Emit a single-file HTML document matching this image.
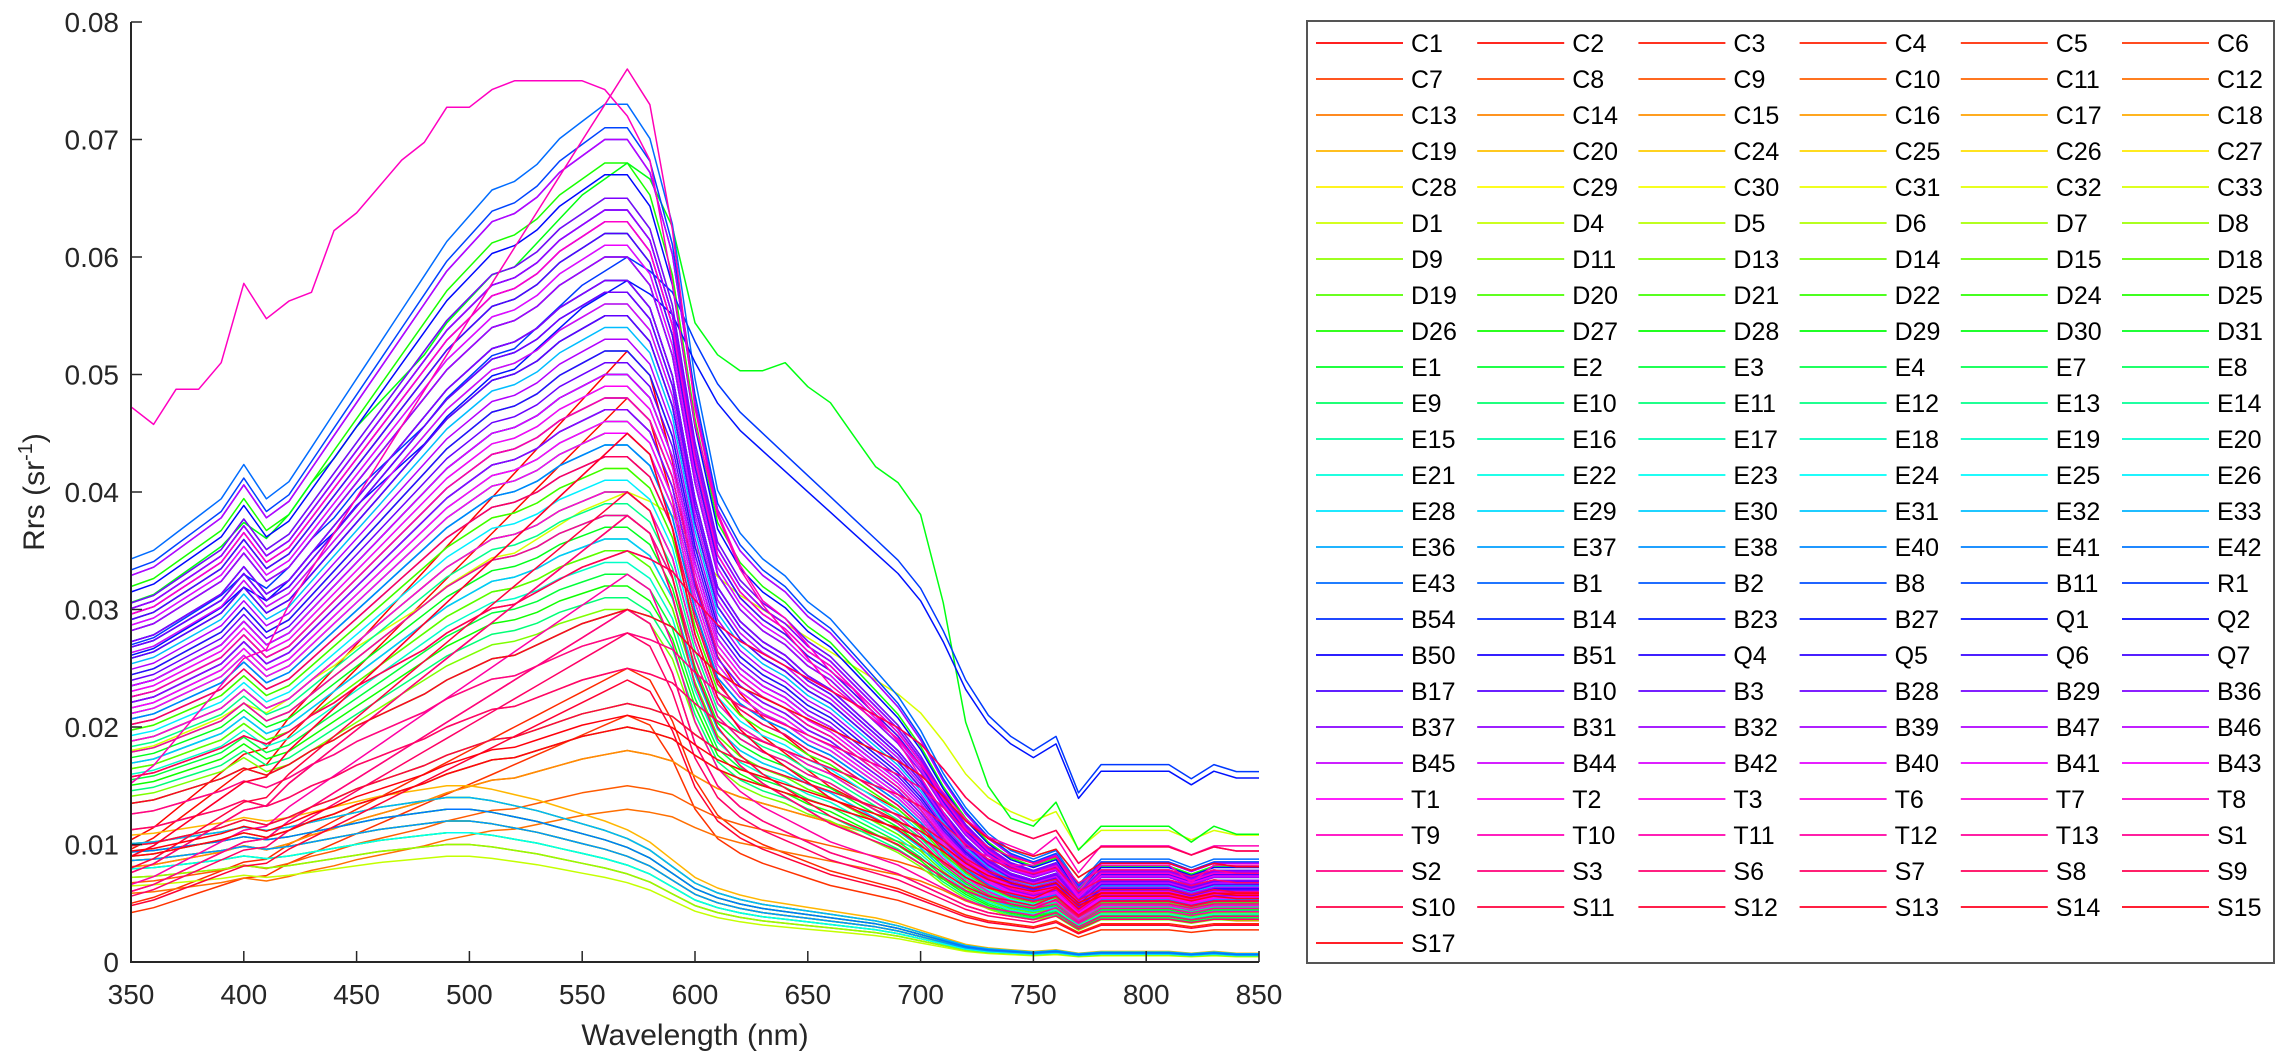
<!DOCTYPE html>
<html><head><meta charset="utf-8"><style>
html,body{margin:0;padding:0;background:#fff;}
svg{display:block;font-family:"Liberation Sans",Arial,sans-serif;}
</style></head><body>
<svg id="chart" width="2284" height="1060" viewBox="0 0 2284 1060" xmlns="http://www.w3.org/2000/svg"></svg>
<script>
const wavelengths=[350,360,370,380,390,400,410,420,430,440,450,460,470,480,490,500,510,520,530,540,550,560,570,580,590,600,610,620,630,640,650,660,670,680,690,700,710,720,730,740,750,760,770,780,790,800,810,820,830,840,850];
const shapeA=[0.47,0.48,0.50,0.52,0.54,0.58,0.54,0.56,0.60,0.64,0.68,0.72,0.76,0.80,0.84,0.87,0.90,0.91,0.93,0.96,0.98,1.00,1.00,0.96,0.86,0.68,0.55,0.50,0.47,0.45,0.42,0.40,0.37,0.34,0.31,0.27,0.22,0.18,0.15,0.13,0.12,0.13,0.09,0.12,0.12,0.12,0.12,0.11,0.12,0.12,0.12];
const shapeB=[0.45,0.46,0.48,0.50,0.52,0.55,0.53,0.56,0.60,0.63,0.67,0.70,0.73,0.76,0.80,0.83,0.86,0.87,0.90,0.93,0.96,0.98,1.00,0.98,0.95,0.88,0.82,0.78,0.75,0.72,0.69,0.66,0.63,0.60,0.57,0.53,0.47,0.40,0.35,0.32,0.30,0.32,0.24,0.28,0.28,0.28,0.28,0.26,0.28,0.27,0.27];
const shapeC=[0.72,0.73,0.75,0.77,0.79,0.82,0.80,0.82,0.85,0.88,0.91,0.94,0.96,0.98,1.00,1.00,0.98,0.95,0.92,0.88,0.84,0.80,0.75,0.68,0.58,0.48,0.42,0.38,0.35,0.33,0.31,0.29,0.27,0.25,0.22,0.18,0.14,0.10,0.08,0.07,0.06,0.07,0.05,0.06,0.06,0.06,0.06,0.05,0.06,0.05,0.05];
const shapeD=[0.20,0.22,0.25,0.28,0.31,0.34,0.35,0.40,0.44,0.48,0.52,0.56,0.60,0.64,0.68,0.72,0.76,0.80,0.84,0.88,0.92,0.96,1.00,0.96,0.82,0.62,0.50,0.44,0.40,0.37,0.34,0.31,0.29,0.27,0.25,0.22,0.19,0.16,0.14,0.13,0.12,0.14,0.10,0.13,0.13,0.13,0.13,0.12,0.13,0.13,0.13];
const shapeE=[0.63,0.61,0.65,0.65,0.68,0.77,0.73,0.75,0.76,0.83,0.85,0.88,0.91,0.93,0.97,0.97,0.99,1,1,1,1,0.99,0.96,0.91,0.77,0.61,0.51,0.45,0.41,0.39,0.36,0.33,0.31,0.28,0.25,0.21,0.17,0.13,0.12,0.11,0.11,0.12,0.08,0.11,0.11,0.11,0.11,0.09,0.11,0.11,0.11];
const shapeF=[0.45,0.46,0.48,0.50,0.52,0.55,0.53,0.56,0.60,0.63,0.67,0.70,0.73,0.76,0.80,0.83,0.86,0.87,0.90,0.93,0.96,0.98,1.00,0.98,0.92,0.80,0.76,0.74,0.74,0.75,0.72,0.70,0.66,0.62,0.60,0.56,0.45,0.30,0.22,0.18,0.17,0.20,0.14,0.17,0.17,0.17,0.17,0.15,0.17,0.16,0.16];
const labels=["C1","C2","C3","C4","C5","C6","C7","C8","C9","C10","C11","C12","C13","C14","C15","C16","C17","C18","C19","C20","C24","C25","C26","C27","C28","C29","C30","C31","C32","C33","D1","D4","D5","D6","D7","D8","D9","D11","D13","D14","D15","D18","D19","D20","D21","D22","D24","D25","D26","D27","D28","D29","D30","D31","E1","E2","E3","E4","E7","E8","E9","E10","E11","E12","E13","E14","E15","E16","E17","E18","E19","E20","E21","E22","E23","E24","E25","E26","E28","E29","E30","E31","E32","E33","E36","E37","E38","E40","E41","E42","E43","B1","B2","B8","B11","R1","B54","B14","B23","B27","Q1","Q2","B50","B51","Q4","Q5","Q6","Q7","B17","B10","B3","B28","B29","B36","B37","B31","B32","B39","B47","B46","B45","B44","B42","B40","B41","B43","T1","T2","T3","T6","T7","T8","T9","T10","T11","T12","T13","S1","S2","S3","S6","S7","S8","S9","S10","S11","S12","S13","S14","S15","S17"];
const seriesShape=["D","D","D","D","D","D","B","B","C","B","C","B","B","C","B","C","B","A","C","B","A","B","C","A","A","A","B","C","A","B","C","C","A","C","B","A","C","A","A","C","B","A","A","C","A","A","B","A","A","A","C","A","F","A","A","A","A","C","A","A","A","A","A","A","A","A","A","A","A","A","A","A","A","A","C","A","A","A","A","A","A","A","A","C","A","A","C","A","A","C","A","A","A","A","A","B","A","A","A","B","A","A","A","A","A","A","A","A","A","A","A","A","A","A","A","A","A","A","A","A","A","A","A","A","A","A","A","A","D","A","B","A","E","D","A","D","A","B","D","D","B","D","A","B","B","D","D","B","D","B","B"];
const seriesPeak=[0.052,0.048,0.038,0.030,0.025,0.021,0.020,0.018,0.012,0.015,0.010,0.013,0.025,0.012,0.018,0.014,0.028,0.048,0.015,0.022,0.045,0.030,0.013,0.040,0.060,0.055,0.035,0.012,0.042,0.040,0.011,0.009,0.035,0.013,0.020,0.038,0.010,0.040,0.030,0.012,0.022,0.046,0.035,0.014,0.050,0.042,0.030,0.062,0.068,0.032,0.011,0.045,0.068,0.037,0.040,0.058,0.033,0.013,0.047,0.052,0.036,0.044,0.031,0.065,0.039,0.056,0.045,0.038,0.060,0.050,0.034,0.058,0.043,0.052,0.011,0.047,0.055,0.041,0.061,0.049,0.044,0.036,0.054,0.014,0.057,0.046,0.012,0.050,0.044,0.013,0.073,0.062,0.058,0.064,0.071,0.060,0.070,0.063,0.050,0.058,0.067,0.055,0.057,0.048,0.060,0.047,0.052,0.064,0.058,0.062,0.055,0.051,0.057,0.065,0.058,0.047,0.064,0.060,0.053,0.070,0.063,0.043,0.056,0.050,0.061,0.045,0.046,0.049,0.045,0.040,0.035,0.063,0.075,0.076,0.048,0.033,0.038,0.028,0.030,0.038,0.025,0.028,0.043,0.035,0.022,0.040,0.024,0.030,0.045,0.020,0.021];
const xTicks=[350,400,450,500,550,600,650,700,750,800,850];
const yTicks=[0,0.01,0.02,0.03,0.04,0.05,0.06,0.07,0.08];
const yTickLabels=["0","0.01","0.02","0.03","0.04","0.05","0.06","0.07","0.08"];

const NS="http://www.w3.org/2000/svg";
const svg=document.getElementById('chart');
const PL=131,PR=1259,PT=22,PB=962;
function xs(w){return PL+(w-350)/(850-350)*(PR-PL);}
function ys(v){return PB-(v-0)/(0.08-0)*(PB-PT);}
function mk(tag,attrs){const e=document.createElementNS(NS,tag);for(const k in attrs)e.setAttribute(k,attrs[k]);return e;}
const shapes={A:shapeA,B:shapeB,C:shapeC,D:shapeD,E:shapeE,F:shapeF};
function hsv(i,n){const h=i/n*6;const k=Math.floor(h)%6;const f=h-Math.floor(h);const q=1-f,t=f;let r,g,b;
 [r,g,b]=[[1,t,0],[q,1,0],[0,1,t],[0,q,1],[t,0,1],[1,0,q]][k];
 return 'rgb('+Math.round(r*255)+','+Math.round(g*255)+','+Math.round(b*255)+')';}

const gS=mk('g',{});


svg.appendChild(gS);
const n=labels.length;
for(let i=0;i<n;i++){
  const sh=shapes[seriesShape[i]];
  const pts=wavelengths.map((w,j)=>xs(w).toFixed(1)+','+ys(seriesPeak[i]*sh[j]).toFixed(1)).join(' ');
  const pl=mk('polyline',{points:pts,fill:'none',stroke:hsv(i,n),'stroke-width':'1.5','stroke-linejoin':'round'});
  
  
  gS.appendChild(pl);
}
const ax=mk('path',{d:`M${PL},${PT} L${PL},${PB} L${PR},${PB}`,fill:'none',stroke:'#262626','stroke-width':'2'});


svg.appendChild(ax);
xTicks.forEach(t=>{
  const x=xs(t);
  const tk=mk('line',{x1:x,y1:PB,x2:x,y2:PB-11,stroke:'#262626','stroke-width':'1.5'});
  
  
  svg.appendChild(tk);
  const tl=mk('text',{x:x,y:PB+42,'font-size':'28','text-anchor':'middle',fill:'#262626'});
  tl.textContent=t;
  
  
  svg.appendChild(tl);
});
yTicks.forEach((t,i)=>{
  const y=ys(t);
  const tk=mk('line',{x1:PL,y1:y,x2:PL+11,y2:y,stroke:'#262626','stroke-width':'1.5'});
  
  
  svg.appendChild(tk);
  const tl=mk('text',{x:PL-12,y:y+10,'font-size':'28','text-anchor':'end',fill:'#262626'});
  tl.textContent=yTickLabels[i];
  
  
  svg.appendChild(tl);
});
const xl=mk('text',{x:(PL+PR)/2,y:1045,'font-size':'30','text-anchor':'middle',fill:'#262626'});
xl.textContent='Wavelength (nm)';


svg.appendChild(xl);
const yl=mk('text',{x:0,y:0,'font-size':'30','text-anchor':'middle',fill:'#262626',transform:`translate(44,${(PT+PB)/2}) rotate(-90)`});
yl.innerHTML='Rrs (sr<tspan font-size="20" dy="-12">-1</tspan><tspan dy="12">)</tspan>';


svg.appendChild(yl);
const lg=mk('g',{});


svg.appendChild(lg);
const box=mk('rect',{x:1307,y:21,width:967,height:942,fill:'#fff',stroke:'#555','stroke-width':'2'});


lg.appendChild(box);
for(let i=0;i<n;i++){
  const r=Math.floor(i/6),c=i%6;
  const x0=1316+c*161.2,y0=43+r*36;
  const g=mk('g',{});
  
  
  g.appendChild(mk('line',{x1:x0,y1:y0,x2:x0+87,y2:y0,stroke:hsv(i,n),'stroke-width':'1.8'}));
  const t=mk('text',{x:x0+95,y:y0+9,'font-size':'25',fill:'#000'});
  t.textContent=labels[i];
  g.appendChild(t);
  lg.appendChild(g);
}
</script>
</body></html>
